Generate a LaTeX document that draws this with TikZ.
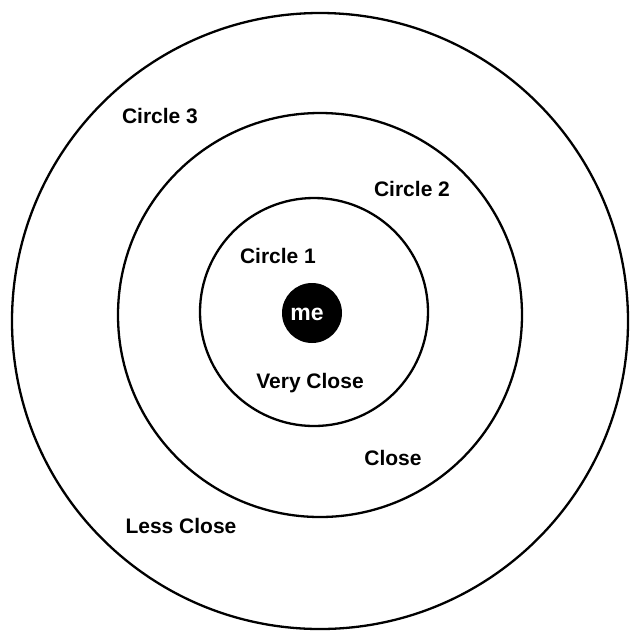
\documentclass[tikz,border=0pt]{standalone}
\usepackage{fontspec}
\setmainfont{Liberation Sans}
\begin{document}
\begin{tikzpicture}[x=1pt,y=-1pt,
  ring/.style={circle,draw=black,line width=2.3pt,inner sep=0pt},
  lbl/.style={font=\fontsize{21}{25}\selectfont\bfseries,anchor=base,inner sep=0pt}]
\useasboundingbox (0,0) rectangle (631,630);
\node[ring,minimum size=616pt] (c3) at (320,321) {};
\node[ring,minimum size=404pt] (c2) at (320,315) {};
\node[ring,minimum size=228pt] (c1) at (314,312) {};
\node[circle,fill=black,minimum size=60pt,inner sep=0pt] (me) at (312,313) {};
\node[lbl,text=white,font=\fontsize{23}{27}\selectfont\bfseries] (metext) at (307,320) {me};
\node[lbl] (l3) at (160,123) {Circle 3};
\node[lbl] (l2) at (412,196) {Circle 2};
\node[lbl] (l1) at (278,263) {Circle 1};
\node[lbl] (vc) at (310,388) {Very Close};
\node[lbl] (cl) at (393,465) {Close};
\node[lbl] (lc) at (181,533) {Less Close};
\end{tikzpicture}
\end{document}
